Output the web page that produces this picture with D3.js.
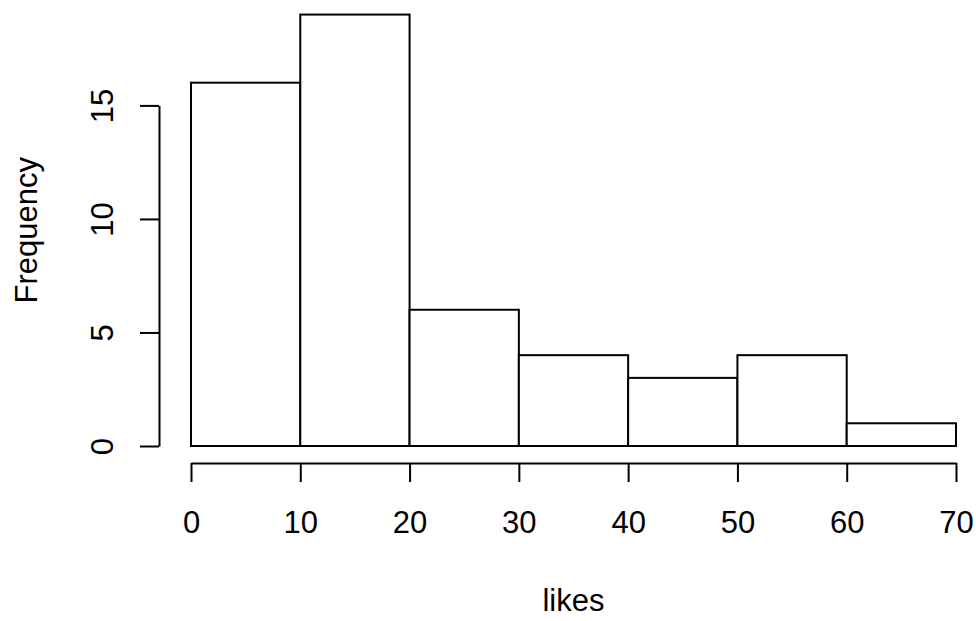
<!DOCTYPE html>
<html>
<head>
<meta charset="utf-8">
<script src="https://cdn.jsdelivr.net/npm/d3@7"></script>
<style>
  html, body { margin: 0; padding: 0; background: #fff; }
  svg { display: block; }
  text { font-family: "Liberation Sans", Arial, sans-serif; fill: #000; }
</style>
</head>
<body>
<svg id="chart" width="976" height="621"></svg>
<script>
// Data
const breaks = [0, 10, 20, 30, 40, 50, 60, 70];
const counts = [16, 19, 6, 4, 3, 4, 1];
const xTicks = [0, 10, 20, 30, 40, 50, 60, 70];
const yTicks = [0, 5, 10, 15];
const xLabel = "likes";
const yLabel = "Frequency";

const bins = counts.map((c, i) => ({ x0: breaks[i], x1: breaks[i + 1], n: c }));

const svg = d3.select("#chart");
const FS = 31;

const x = d3.scaleLinear().domain([0, 70]).range([191, 956]);
const y = d3.scaleLinear().domain([0, 15]).range([446, 105.4]);

// Bars
svg.append("g")
  .selectAll("rect")
  .data(bins)
  .join("rect")
  .attr("x", d => x(d.x0))
  .attr("y", d => y(d.n))
  .attr("width", d => x(d.x1) - x(d.x0))
  .attr("height", d => y(0) - y(d.n))
  .attr("fill", "#fff")
  .attr("stroke", "#000")
  .attr("stroke-width", 2);

// X axis
const gx = svg.append("g")
  .attr("transform", "translate(0,463)")
  .call(d3.axisBottom(x).tickValues(xTicks).tickSize(19).tickSizeOuter(0).tickFormat(d3.format("d")));
gx.select(".domain").attr("stroke", "#000").attr("stroke-width", 2);
gx.selectAll(".tick line").attr("stroke", "#000").attr("stroke-width", 2);
gx.selectAll(".tick text")
  .attr("y", 70).attr("dy", 0)
  .attr("font-size", FS)
  .attr("font-family", "Liberation Sans, Arial, sans-serif")
  .attr("fill", "#000");

// Y axis
const gy = svg.append("g")
  .attr("transform", "translate(159,0)")
  .call(d3.axisLeft(y).tickValues(yTicks).tickSize(19).tickSizeOuter(0).tickFormat(d3.format("d")));
gy.select(".domain").attr("stroke", "#000").attr("stroke-width", 2);
gy.selectAll(".tick line").attr("stroke", "#000").attr("stroke-width", 2);
gy.selectAll(".tick text")
  .attr("x", 0).attr("dy", 0)
  .attr("text-anchor", "middle")
  .attr("transform", "translate(-46,0) rotate(-90)")
  .attr("font-size", FS)
  .attr("font-family", "Liberation Sans, Arial, sans-serif")
  .attr("fill", "#000");

// Axis titles
svg.append("text")
  .attr("x", (x(0) + x(70)) / 2)
  .attr("y", 611)
  .attr("text-anchor", "middle")
  .attr("font-size", FS)
  .text(xLabel);

svg.append("text")
  .attr("transform", "translate(37," + ((y(0) + 14.5) / 2) + ") rotate(-90)")
  .attr("text-anchor", "middle")
  .attr("font-size", FS)
  .text(yLabel);
</script>
</body>
</html>
